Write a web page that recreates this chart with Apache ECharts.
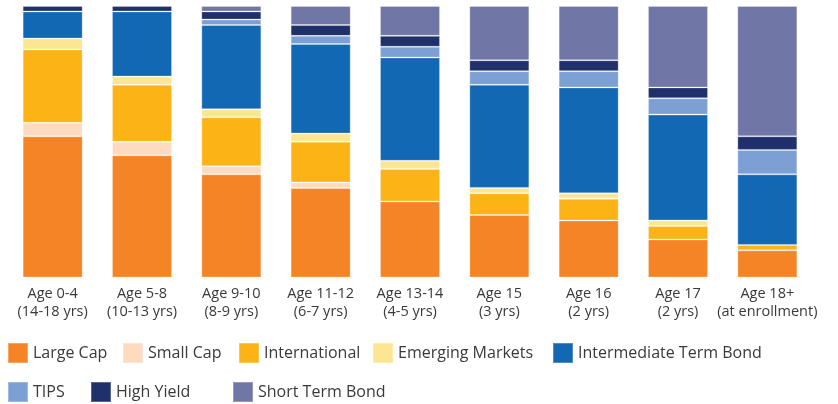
<!DOCTYPE html>
<html>
<head>
<meta charset="utf-8">
<script src="https://cdn.jsdelivr.net/npm/echarts@6/dist/echarts.min.js"></script>
<style>html,body{margin:0;padding:0;background:#fff}#c{width:838px;height:404px}</style>
</head>
<body>
<div id="c"></div>
<script>
const categories = ["Age 0-4\n(14-18 yrs)", "Age 5-8\n(10-13 yrs)", "Age 9-10\n(8-9 yrs)", "Age 11-12\n(6-7 yrs)", "Age 13-14\n(4-5 yrs)", "Age 15\n(3 yrs)", "Age 16\n(2 yrs)", "Age 17\n(2 yrs)", "Age 18+\n(at enrollment)"];
const largeCap      = [52, 45, 38, 33, 28, 23, 21, 14, 10];
const smallCap      = [5, 5, 3, 2, null, null, null, null, null];
const international = [27, 21, 18, 15, 12, 8, 8, 5, 2];
const emerging      = [4, 3, 3, 3, 3, 2, 2, 2, null];
const intermediate  = [10, 24, 31, 33, 38, 38, 39, 39, 26];
const tips          = [null, null, 2, 3, 4, 5, 6, 6, 9];
const highYield     = [2, 2, 3, 4, 4, 4, 4, 4, 5];
const shortTerm     = [null, null, 2, 7, 11, 20, 20, 30, 48];

const seriesDefs = [
  ["Large Cap", largeCap, "#F58426"],
  ["Small Cap", smallCap, "#FDDBC0"],
  ["International", international, "#FCB316"],
  ["Emerging Markets", emerging, "#FDE692"],
  ["Intermediate Term Bond", intermediate, "#1368B3"],
  ["TIPS", tips, "#7CA0D4"],
  ["High Yield", highYield, "#1F306B"],
  ["Short Term Bond", shortTerm, "#7077A7"]
];
// legend item placement (icon left x, row top)
const legendPos = [[7, 342], [122, 342], [238, 342], [372, 342], [552, 342], [7, 381], [90, 381], [232, 381]];

const chart = echarts.init(document.getElementById('c'), null, {renderer: 'canvas'});
const fontFamily = '"Open Sans", "Noto Sans", sans-serif';
const legendText = {fontSize: 16, color: '#3a3a3a', fontFamily: fontFamily};
chart.setOption({
  animation: false,
  color: seriesDefs.map(d => d[2]),
  grid: {left: 8, width: 804, top: 6, height: 271.5},
  legend: seriesDefs.map((d, i) => ({
    data: [d[0]], left: legendPos[i][0] - 5, top: legendPos[i][1] - 5,
    itemWidth: 20, itemHeight: 20, textStyle: legendText, icon: 'rect', selectedMode: false
  })),
  xAxis: {
    type: 'category', data: categories,
    axisLine: {show: false}, axisTick: {show: false},
    axisLabel: {margin: 7, fontSize: 14.5, lineHeight: 18, color: '#3a3a3a', fontFamily: fontFamily, interval: 0}
  },
  yAxis: {type: 'value', min: 0, max: 100, show: false, splitLine: {show: false}},
  series: seriesDefs.map(d => ({
    name: d[0], type: 'bar', stack: 'total', data: d[1], barWidth: 60,
    itemStyle: {color: d[2], borderColor: 'rgba(255,255,255,0.25)', borderWidth: 1}
  }))
});
</script>
</body>
</html>
